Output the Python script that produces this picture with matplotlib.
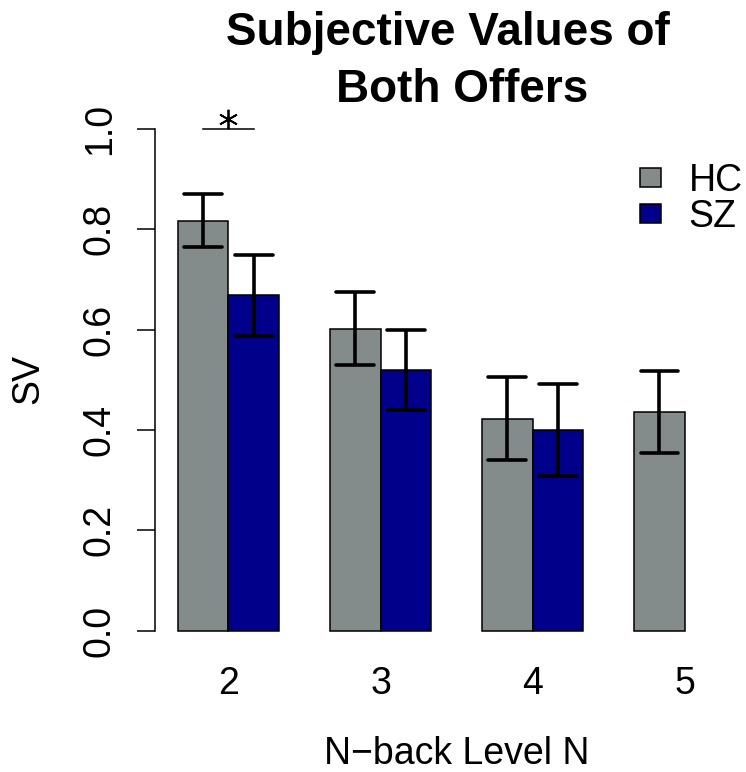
import matplotlib
matplotlib.use('Agg')
import matplotlib.pyplot as plt
import numpy as np
from matplotlib.patches import Rectangle

plt.rcParams['font.family'] = ['Liberation Sans', 'DejaVu Sans']

levels = ['2', '3', '4', '5']
hc_mean = [0.817, 0.601, 0.422, 0.436]
hc_lo = [0.765, 0.529, 0.339, 0.353]
hc_hi = [0.870, 0.674, 0.505, 0.518]
sz_mean = [0.668, 0.519, 0.400, np.nan]
sz_lo = [0.587, 0.440, 0.309, np.nan]
sz_hi = [0.749, 0.599, 0.491, np.nan]

hc_col = '#838B8B'
sz_col = '#00008B'

W, H = 746, 772
fig = plt.figure(figsize=(W / 100, H / 100), dpi=100)

def fx(px):
    return px / W

def fy(py):
    return 1 - py / H

# axes placed so y=0 sits at 630.5 px and y=1 at 129 px (from top)
ppu = 501.5
y0 = 630.5
ylo, yhi = -0.04, 1.04
bot = H - (y0 + 0.04 * ppu)
top = H - (y0 - 1.04 * ppu)
bw = 50.7
x_left = 155.4
ax = fig.add_axes([x_left / W, bot / H, (W - x_left) / W, (top - bot) / H])
ax.set_xlim(0.56, 0.56 + (W - x_left) / bw)
ax.set_ylim(ylo, yhi)

# R barplot layout: groups of 2 bars, one bar-width gap
pos = np.arange(len(levels)) * 3 + 1
ax.bar(pos, hc_mean, width=1, align='edge', color=hc_col, edgecolor='black', linewidth=1.1)
sz_ok = ~np.isnan(sz_mean)
ax.bar((pos + 1)[sz_ok], np.array(sz_mean)[sz_ok], width=1, align='edge',
       color=sz_col, edgecolor='black', linewidth=1.1)

def ebars(xs, lo, hi):
    for x, a, b in zip(xs, lo, hi):
        if np.isnan(a):
            continue
        ax.plot([x, x], [a, b], color='black', lw=2.6, solid_capstyle='butt')
        for yy in (a, b):
            ax.plot([x - 0.37, x + 0.37], [yy, yy], color='black', lw=2.6,
                    solid_capstyle='round')

ebars(pos + 0.5, hc_lo, hc_hi)
ebars(pos + 1.5, sz_lo, sz_hi)

for s in ['top', 'right', 'bottom']:
    ax.spines[s].set_visible(False)
ax.spines['left'].set_bounds(0, 1)
ax.spines['left'].set_linewidth(1.1)
ax.set_yticks([0, 0.2, 0.4, 0.6, 0.8, 1.0])
ax.set_yticklabels(['0.0', '0.2', '0.4', '0.6', '0.8', '1.0'], rotation=90, va='center')
ax.tick_params(axis='y', length=13, width=1.1, labelsize=27, pad=14)
ax.set_xticks(pos + 1)
ax.set_xticklabels(levels)
ax.tick_params(axis='x', length=0, labelsize=27, pad=11)

fig.text(fx(28), fy(379), 'SV', rotation=90, ha='center', va='center', fontsize=27)
fig.text(fx(456.5), fy(764), 'N\u2212back Level N', ha='center', va='baseline', fontsize=27)

# significance marker
ax.plot([pos[0] + 0.5, pos[0] + 1.5], [1.0, 1.0], color='black', lw=1.1, clip_on=False)
ax.plot([pos[0] + 1], [1.0 + 10.5 / ppu], marker=(6, 2, 0), ms=14, mew=1.3,
        color='black', clip_on=False)

fig.text(fx(226), fy(45), 'Subjective Values of', ha='left', va='baseline',
         fontsize=33, fontweight='bold')
fig.text(fx(336), fy(101.7), 'Both Offers', ha='left', va='baseline',
         fontsize=33, fontweight='bold')

# legend
for yc, col, lab in [(177.5, hc_col, 'HC'), (213, sz_col, 'SZ')]:
    fig.patches.append(Rectangle((fx(639.5), fy(yc + 9.5)), 21.5 / W, 19 / H,
                                 transform=fig.transFigure, facecolor=col,
                                 edgecolor='black', linewidth=1.1))
    fig.text(fx(688.5), fy(yc + 13.8), lab, ha='left', va='baseline', fontsize=27)

fig.savefig('out.png', dpi=100)
